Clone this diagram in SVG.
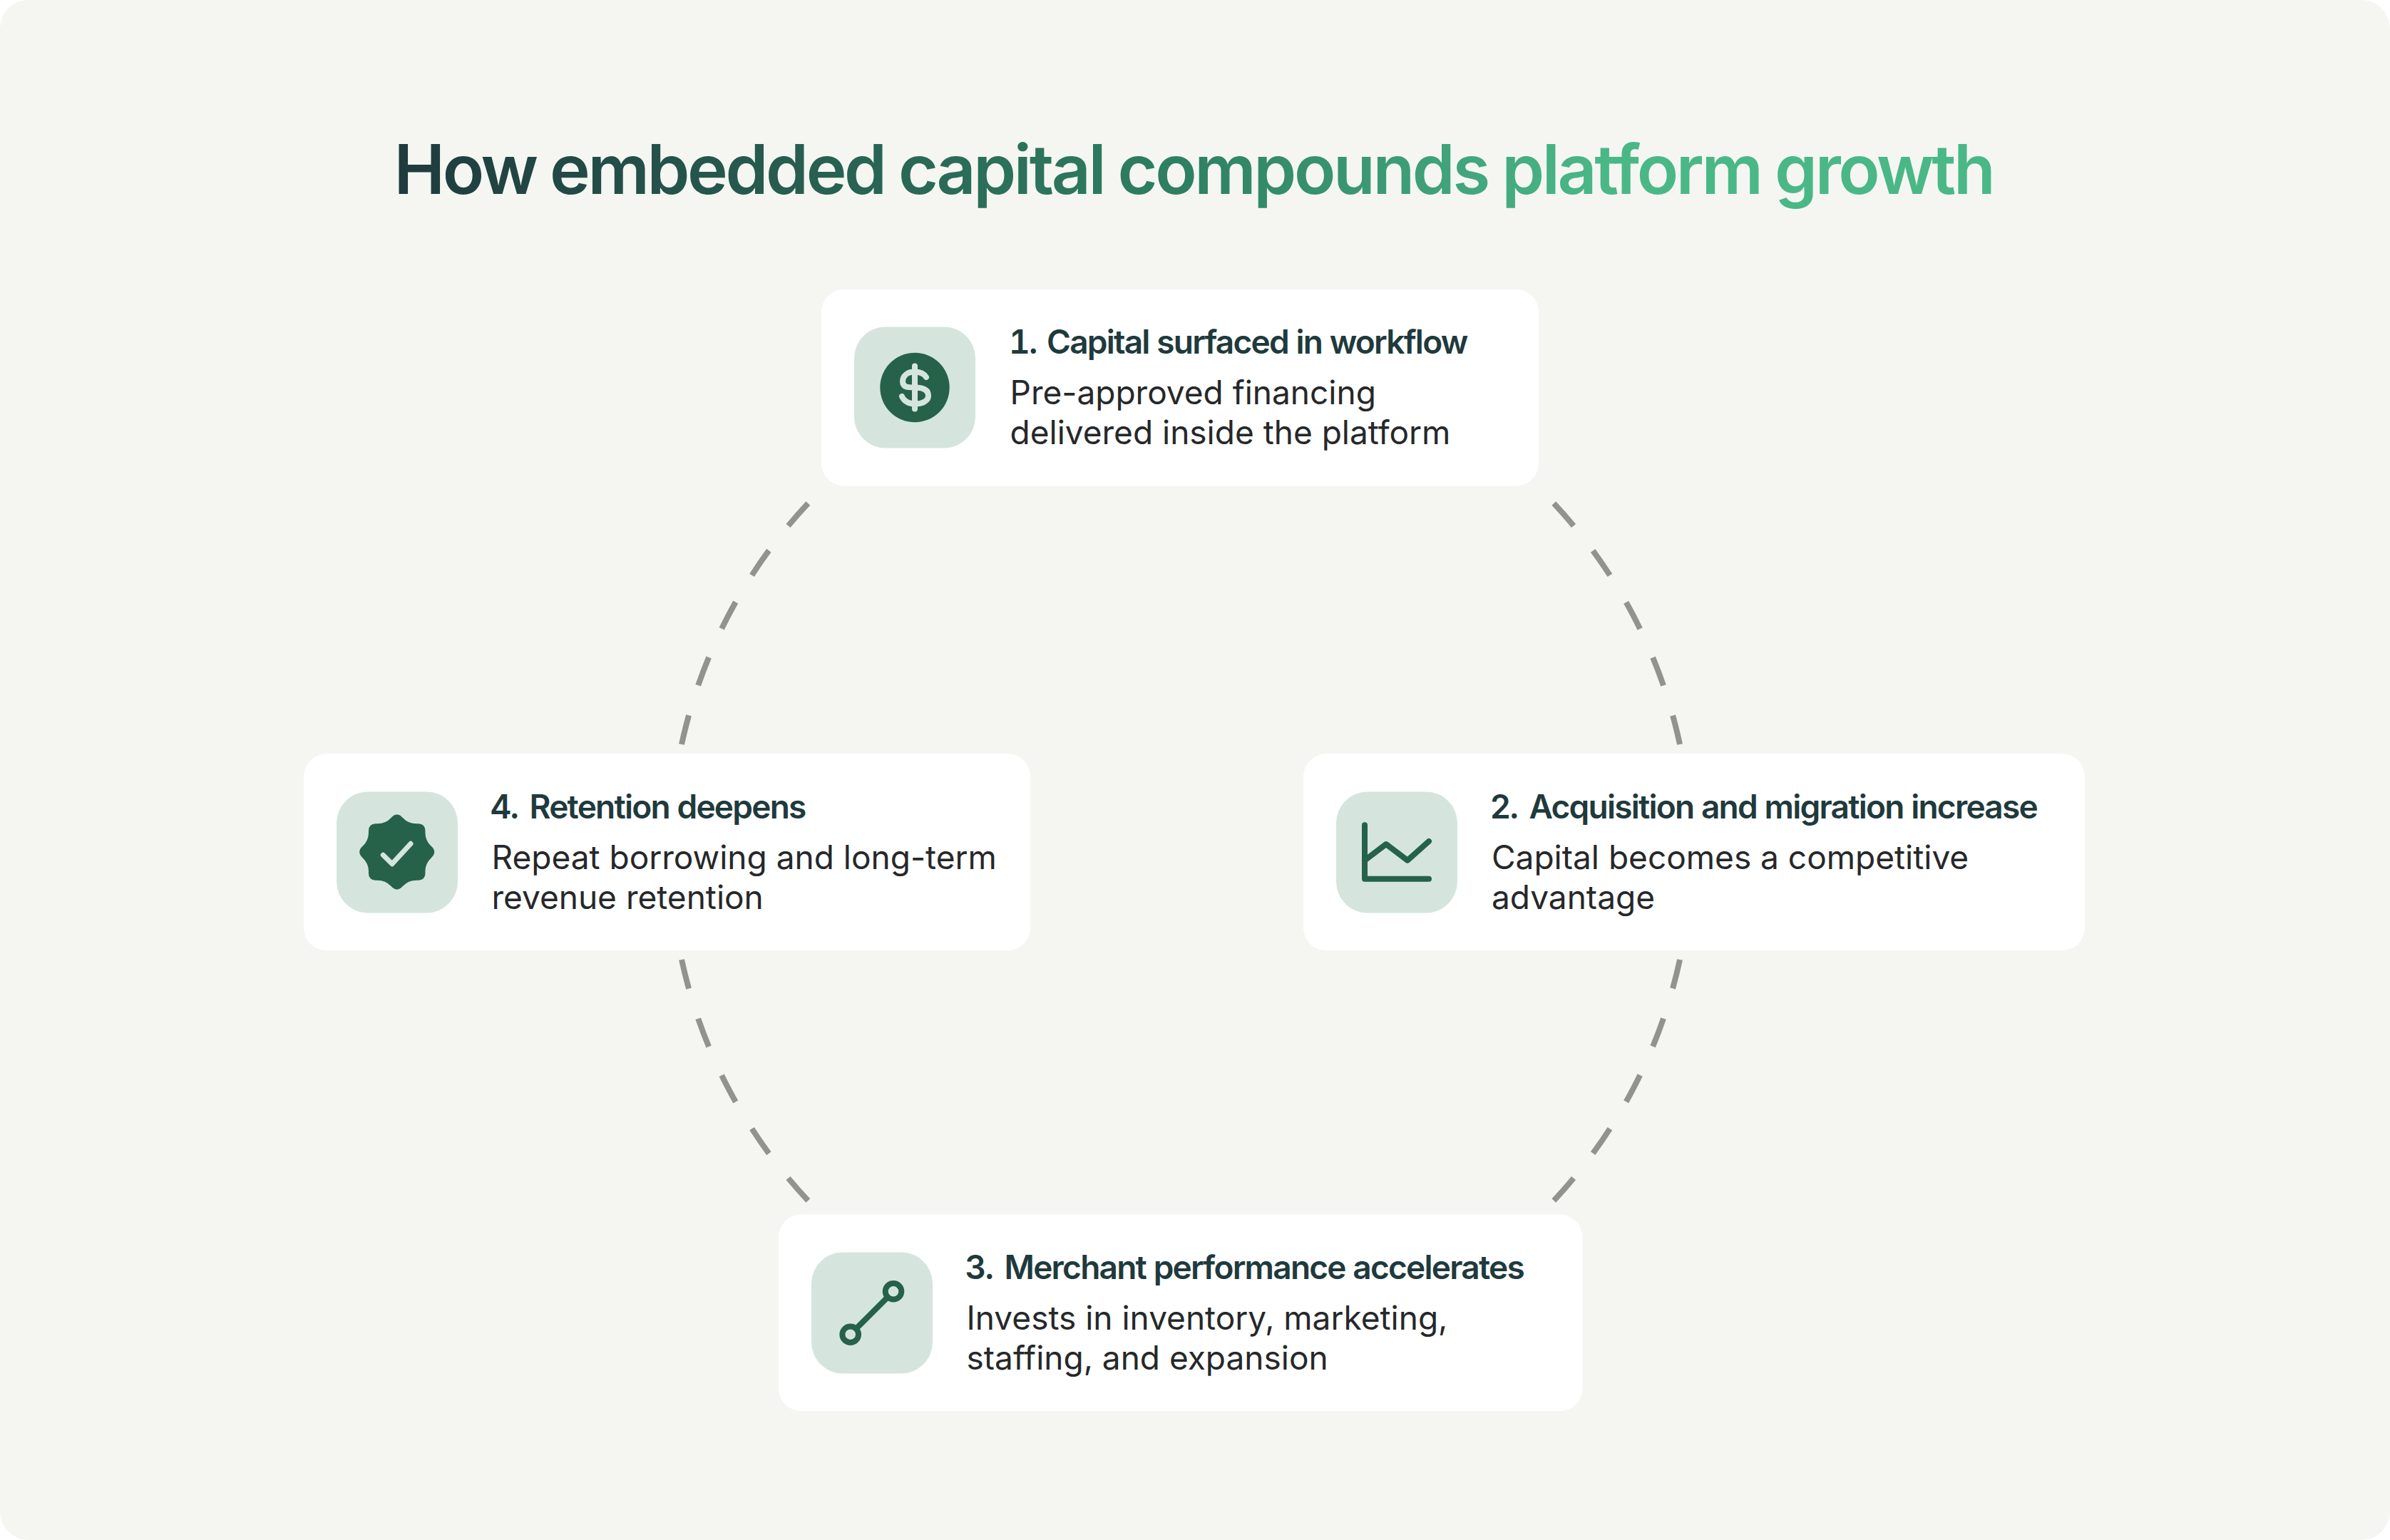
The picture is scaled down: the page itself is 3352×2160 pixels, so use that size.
<svg xmlns="http://www.w3.org/2000/svg" width="3352" height="2160" viewBox="0 0 3352 2160">
<style>
.card{fill:#fff}
.tile{fill:#d5e5de}
.h{font:600 46px Inter,"Liberation Sans",sans-serif;letter-spacing:-1.76px;fill:#1f3a3d;font-variant-numeric:tabular-nums}
.b{font:400 46px Inter,"Liberation Sans",sans-serif;fill:#26282a}
.dash{fill:none;stroke:#92938f;stroke-width:8;stroke-dasharray:42 44.1}
.ic{fill:none;stroke:#256249;stroke-width:8;stroke-linecap:round;stroke-linejoin:round}
.t{font:600 96px Inter,"Liberation Sans",sans-serif;letter-spacing:-3.34px;word-spacing:-1.5px}
</style>
<defs>
<linearGradient id="tg" gradientUnits="userSpaceOnUse" x1="555" y1="0" x2="2797" y2="0">
<stop offset="0" stop-color="#1f3a3d"/><stop offset="0.5" stop-color="#2f8163"/><stop offset="0.75" stop-color="#4ab787"/><stop offset="1" stop-color="#4ab787"/>
</linearGradient>
</defs>
<rect width="3352" height="2160" fill="#fff"/>
<rect width="3352" height="2160" rx="40" fill="#f5f6f2"/>
<text class="t" x="552.5" y="272" fill="url(#tg)">How embedded capital compounds platform growth</text>
<g id="connectors">
<path class="dash" d="M1133.3 706A716 716 0 0 0 956 1044"/>
<path class="dash" d="M2179.3 706A716 716 0 0 1 2356 1044"/>
<path class="dash" d="M2179.3 1684A716 716 0 0 0 2356 1346"/>
<path class="dash" d="M1133.3 1684A716 716 0 0 1 956 1346"/>
</g>
<g id="node-1">
<rect class="card" x="1152" y="405.7" width="1006" height="276" rx="32"/>
<rect class="tile" x="1198" y="458.5" width="170" height="170" rx="44"/>
<circle cx="1283" cy="543.5" r="48.7" fill="#256249"/>
<path d="M1283 513.5V573.5M1299 529C1296 524 1290 521.5 1282 521.5C1273 521.5 1266 527 1266 535C1266 544 1275 543.5 1283 543.5C1293 543.5 1302 546 1302 555C1302 562 1294 566.5 1284 566.5C1275 566.5 1268 563 1265 556" fill="none" stroke="#d5e5de" stroke-width="8" stroke-linecap="round"/>
<text class="h" x="1415" y="496">1. <tspan x="1468">Capital surfaced in workflow</tspan></text>
<text class="b" x="1416.5" y="566.7">Pre-approved financing</text>
<text class="b" x="1416.5" y="623">delivered inside the platform</text>
</g>
<g id="node-2">
<rect class="card" x="1828" y="1057.3" width="1096" height="276" rx="32"/>
<rect class="tile" x="1874" y="1110.5" width="170" height="170" rx="44"/>
<path class="ic" d="M1914 1157.3V1232.7H2004M1914 1206.7L1944 1184L1974 1206.7L2004 1180"/>
<text class="h" x="2089.5" y="1148">2. <tspan x="2144.5">Acquisition and migration increase</tspan></text>
<text class="b" x="2092" y="1218.7">Capital becomes a competitive</text>
<text class="b" x="2092" y="1275">advantage</text>
</g>
<g id="node-3">
<rect class="card" x="1092" y="1703.3" width="1127.5" height="276" rx="32"/>
<rect class="tile" x="1138" y="1756.5" width="170" height="170" rx="44"/>
<path class="ic" d="M1200.7 1863.7L1245 1819.3"/>
<circle class="ic" cx="1253" cy="1811.3" r="11.3"/>
<circle class="ic" cx="1192.7" cy="1871.7" r="11.3"/>
<text class="h" x="1353.5" y="1794">3. <tspan x="1408.5">Merchant performance accelerates</tspan></text>
<text class="b" x="1355.5" y="1864.7">Invests in inventory, marketing,</text>
<text class="b" x="1355.5" y="1921">staffing, and expansion</text>
</g>
<g id="node-4">
<rect class="card" x="426" y="1057.3" width="1019" height="276" rx="32"/>
<rect class="tile" x="472" y="1110.5" width="170" height="170" rx="44"/>
<path transform="translate(556.7 1195)" fill="#256249" d="M8.15-48.1Q16.3-39.3 28.25-39.75Q40.2-40.2 39.75-28.25Q39.3-16.3 48.1-8.15Q56.9 0 48.1 8.15Q39.3 16.3 39.75 28.25Q40.2 40.2 28.25 39.75Q16.3 39.3 8.15 48.1Q0 56.9-8.15 48.1Q-16.3 39.3-28.25 39.75Q-40.2 40.2-39.75 28.25Q-39.3 16.3-48.1 8.15Q-56.9 0-48.1-8.15Q-39.3-16.3-39.75-28.25Q-40.2-40.2-28.25-39.75Q-16.3-39.3-8.15-48.1Q0-56.9 8.15-48.1Z"/>
<path d="M537.3 1199.3L550 1211.7L576 1183.3" fill="none" stroke="#d5e5de" stroke-width="7" stroke-linecap="round" stroke-linejoin="round"/>
<text class="h" x="687.5" y="1148">4. <tspan x="742.5">Retention deepens</tspan></text>
<text class="b" x="689.5" y="1218.7">Repeat borrowing and long-term</text>
<text class="b" x="689.5" y="1275">revenue retention</text>
</g>
</svg>
